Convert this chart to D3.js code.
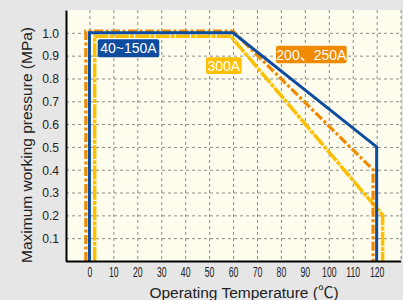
<!DOCTYPE html>
<html>
<head>
<meta charset="utf-8">
<script src="https://cdn.jsdelivr.net/npm/d3@7"></script>
<style>
  body { margin: 0; background: #e6e6e6; }
  svg { display: block; font-family: "Liberation Sans", Arial, "Noto Sans CJK SC", sans-serif; }
</style>
</head>
<body>
<svg width="403" height="300"></svg>
<script>
const xTicks = [0, 10, 20, 30, 40, 50, 60, 70, 80, 90, 100, 110, 120];
const xGrid = [0, 10, 20, 30, 40, 50, 60, 70, 80, 90, 100, 110, 120, 130];
const yTicks = [0.1, 0.2, 0.3, 0.4, 0.5, 0.6, 0.7, 0.8, 0.9, 1.0];

// [temperature, pressure]
const series300 = [[2.2, 0], [2.2, 0.985], [59, 0.985], [118.5, 0.25], [121.5, 0.215], [122.5, 0.2], [122.5, 0]];
const series200 = [[-1.5, 0], [-1.5, 1.007], [60, 1.007], [118.5, 0.4], [118.5, 0]];
const series40 = [[0, 0], [0, 1.0], [60, 1.0], [120, 0.5], [120, 0]];

const labels = [
  { text: "40~150A", color: "#0d4c9e" },
  { text: "300A", color: "#fdbf00" },
  { text: "200、250A", color: "#f08a00" }
];

const svg = d3.select('svg');
const pLeft = 66, pRight = 401, pTop = 10, pBottom = 261;

const x = d3.scaleLinear().domain([-10, 130]).range([65.5, 400.6]);
const y = d3.scaleLinear().domain([0, 1.1]).range([pBottom, pTop]);

svg.append('rect')
  .attr('x', pLeft).attr('y', pTop)
  .attr('width', pRight - pLeft).attr('height', pBottom - pTop)
  .attr('fill', '#fffdee');

// grid
svg.append('g')
  .attr('transform', 'translate(0,' + pTop + ')')
  .call(d3.axisBottom(x).tickValues(xGrid).tickSize(pBottom - pTop).tickFormat(''))
  .call(g => g.select('.domain').remove())
  .selectAll('line')
  .attr('stroke', '#8a8a8a').attr('stroke-dasharray', '3,3');

svg.append('g')
  .attr('transform', 'translate(' + pLeft + ',0)')
  .call(d3.axisRight(y).tickValues(yTicks).tickSize(pRight - pLeft).tickFormat(''))
  .call(g => g.select('.domain').remove())
  .selectAll('line')
  .attr('stroke', '#8a8a8a').attr('stroke-dasharray', '3,3');

const line = d3.line().x(d => x(d[0])).y(d => y(d[1]));

svg.append('path')
  .datum(series300)
  .attr('d', line)
  .attr('fill', 'none')
  .attr('stroke', '#fdbf00')
  .attr('stroke-width', 3.5)
  .attr('stroke-dasharray', '14,1.2,4,1.2');

svg.append('path')
  .datum(series200)
  .attr('d', line)
  .attr('fill', 'none')
  .attr('stroke', '#f08a00')
  .attr('stroke-width', 3.2)
  .attr('stroke-dasharray', '9,2.5,3,2.5');

svg.append('path')
  .datum(series40)
  .attr('d', line)
  .attr('fill', 'none')
  .attr('stroke', '#0d4c9e')
  .attr('stroke-width', 3);

// axes
const sxX = 0.62;
svg.append('g')
  .attr('transform', 'translate(0,' + pBottom + ')')
  .call(d3.axisBottom(x).tickValues(xTicks).tickSize(0).tickPadding(6).tickSizeOuter(0))
  .call(g => g.select('.domain').attr('stroke', '#000').attr('stroke-width', 2))
  .call(g => g.selectAll('text')
    .attr('fill', '#222')
    .style('font-size', '14px')
    .attr('transform', 'scale(' + sxX + ',1)'));

const sxY = 0.9;
svg.append('g')
  .attr('transform', 'translate(' + pLeft + ',0)')
  .call(d3.axisLeft(y).tickValues(yTicks).tickSize(0).tickPadding(0).tickSizeOuter(0).tickFormat(d3.format('.1f')))
  .call(g => g.select('.domain').attr('stroke', '#000').attr('stroke-width', 2))
  .call(g => g.selectAll('text')
    .attr('fill', '#222')
    .style('font-size', '13.5px')
    .attr('x', -7 / sxY)
    .attr('transform', 'scale(' + sxY + ',1)'));

// labels
const boxes = [
  { x: 97.7, y: 39.3, w: 61.6, h: 18 },
  { x: 206, y: 57.3, w: 35.7, h: 16.7 },
  { x: 276, y: 45.7, w: 70.7, h: 17.6 }
];
labels.forEach((l, i) => {
  const b = boxes[i];
  svg.append('rect')
    .attr('x', b.x).attr('y', b.y).attr('width', b.w).attr('height', b.h)
    .attr('rx', 2)
    .attr('fill', l.color);
  svg.append('text')
    .attr('x', b.x + b.w / 2).attr('y', b.y + b.h / 2 + 5)
    .attr('text-anchor', 'middle')
    .attr('fill', '#fff')
    .style('font-size', '14px')
    .text(l.text);
});

svg.append('text')
  .attr('transform', 'translate(32,145) rotate(-90)')
  .attr('text-anchor', 'middle')
  .attr('fill', '#222')
  .style('font-size', '15.5px')
  .text('Maximum working pressure (MPa)');

svg.append('text')
  .attr('x', 244).attr('y', 298)
  .attr('text-anchor', 'middle')
  .attr('fill', '#222')
  .style('font-size', '15.5px')
  .text('Operating Temperature (℃)');
</script>
</body>
</html>
